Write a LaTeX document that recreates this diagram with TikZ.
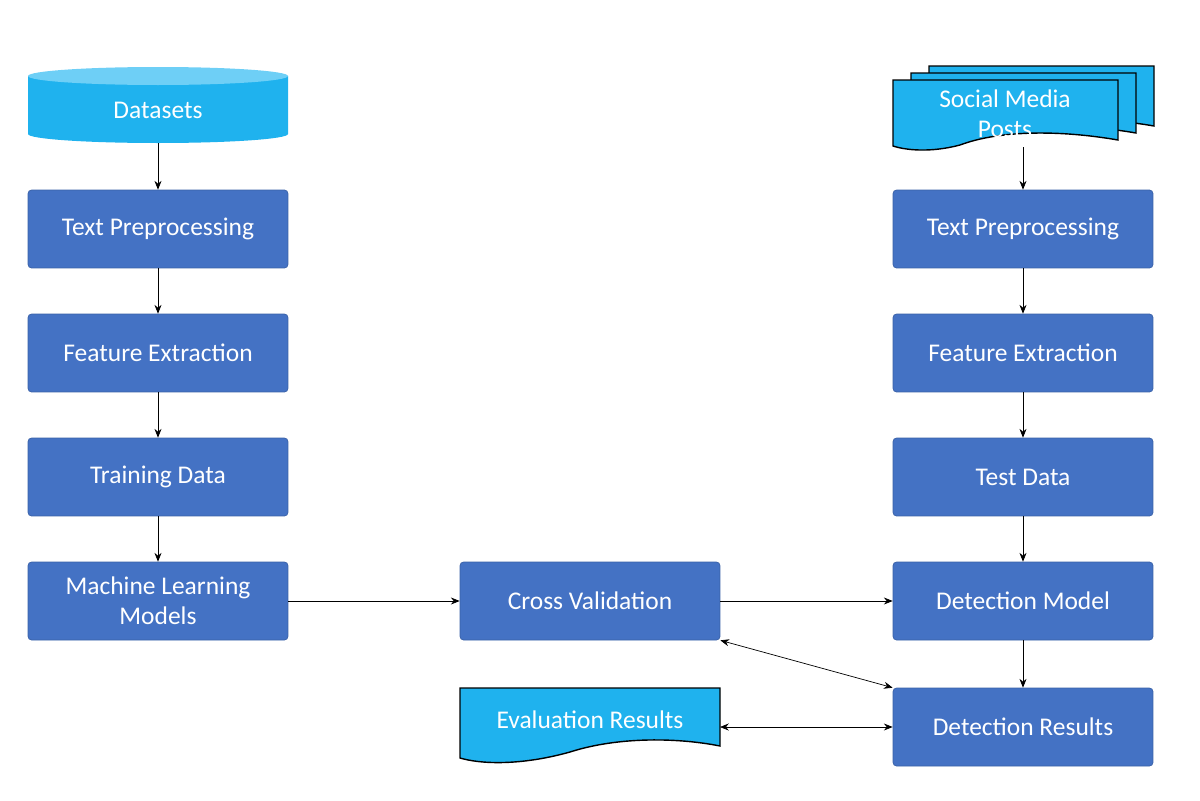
\documentclass[tikz,border=0pt]{standalone}
\usepackage{fontspec}
\setmainfont{Carlito}
\usetikzlibrary{arrows.meta}
\definecolor{boxblue}{HTML}{4472C4}
\definecolor{docblue}{HTML}{1FB2EE}
\definecolor{topblue}{HTML}{6ECFF6}
\tikzset{
  stepbox/.style={fill=boxblue, draw=boxblue!85!black, rounded corners=2pt, minimum width=5.2cm,
    minimum height=1.56cm, align=center, text=white, font=\fontsize{14.5}{17}\selectfont},
  plain/.style={minimum width=5.2cm, minimum height=1.5cm, align=center, text=white,
    font=\fontsize{14.5}{17}\selectfont},
  link/.style={-{Stealth[length=5pt,width=4pt]}, thin},
  both/.style={{Stealth[length=5pt,width=4pt]}-{Stealth[length=5pt,width=4pt]}, thin}
}
\begin{document}
\begin{tikzpicture}[x=0.02cm, y=0.02cm]
\useasboundingbox (0,0) rectangle (1200,-801);
% datasets cylinder
\fill[docblue] (28,-76) -- (28,-134) arc[start angle=180, end angle=360, x radius=130, y radius=9] -- (288,-76) -- cycle;
\fill[topblue] (158,-76) ellipse[x radius=130, y radius=9];
\node[plain, minimum height=1.2cm] (data) at (158,-110) {Datasets};
% social media posts (stacked documents)
\foreach \dx/\dy in {36/-14, 18/-7, 0/0} {
  \draw[fill=docblue, thick, draw=black] (893+\dx,-80-\dy) -- (1118+\dx,-80-\dy) -- (1118+\dx,-140-\dy)
    .. controls (1060+\dx,-130-\dy) and (1000+\dx,-130-\dy) .. (960+\dx,-145-\dy)
    .. controls (930+\dx,-153-\dy) and (905+\dx,-150-\dy) .. (893+\dx,-146-\dy) -- cycle;
}
\node[plain, minimum width=4.4cm, minimum height=1.4cm] (posts) at (1005,-114) {Social Media\\Posts};
\coordinate (postsend) at (1023,-147);
% evaluation results document
\draw[fill=docblue, thick, draw=black] (460,-688) -- (720,-688) -- (720,-746)
  .. controls (680,-738) and (620,-736) .. (570,-752)
  .. controls (520,-766) and (480,-764) .. (460,-758) -- cycle;
\node[plain, minimum height=1.2cm] (eval) at (590,-720) {Evaluation Results};
% left column
\node[stepbox] (lpre) at (158,-229) {Text Preprocessing};
\node[stepbox] (lfeat) at (158,-353) {Feature Extraction};
\node[stepbox] (train) at (158,-477) {Training Data};
\node[stepbox] (ml) at (158,-601) {Machine Learning\\Models};
% middle
\node[stepbox] (cv) at (590,-601) {Cross Validation};
% right column
\node[stepbox] (rpre) at (1023,-229) {Text Preprocessing};
\node[stepbox] (rfeat) at (1023,-353) {Feature Extraction};
\node[stepbox] (test) at (1023,-477) {Test Data};
\node[stepbox] (det) at (1023,-601) {Detection Model};
\node[stepbox] (res) at (1023,-727) {Detection Results};
% connectors
\draw[link] (158,-143) -- (lpre);
\draw[link] (lpre) -- (lfeat);
\draw[link] (lfeat) -- (train);
\draw[link] (train) -- (ml);
\draw[link] (ml) -- (cv);
\draw[link] (cv) -- (det);
\draw[link] (postsend) -- (rpre);
\draw[link] (rpre) -- (rfeat);
\draw[link] (rfeat) -- (test);
\draw[link] (test) -- (det);
\draw[link] (det) -- (res);
\draw[both] (cv.south east) -- (res.north west);
\draw[both] (720,-727) -- (res.west);
\end{tikzpicture}
\end{document}
